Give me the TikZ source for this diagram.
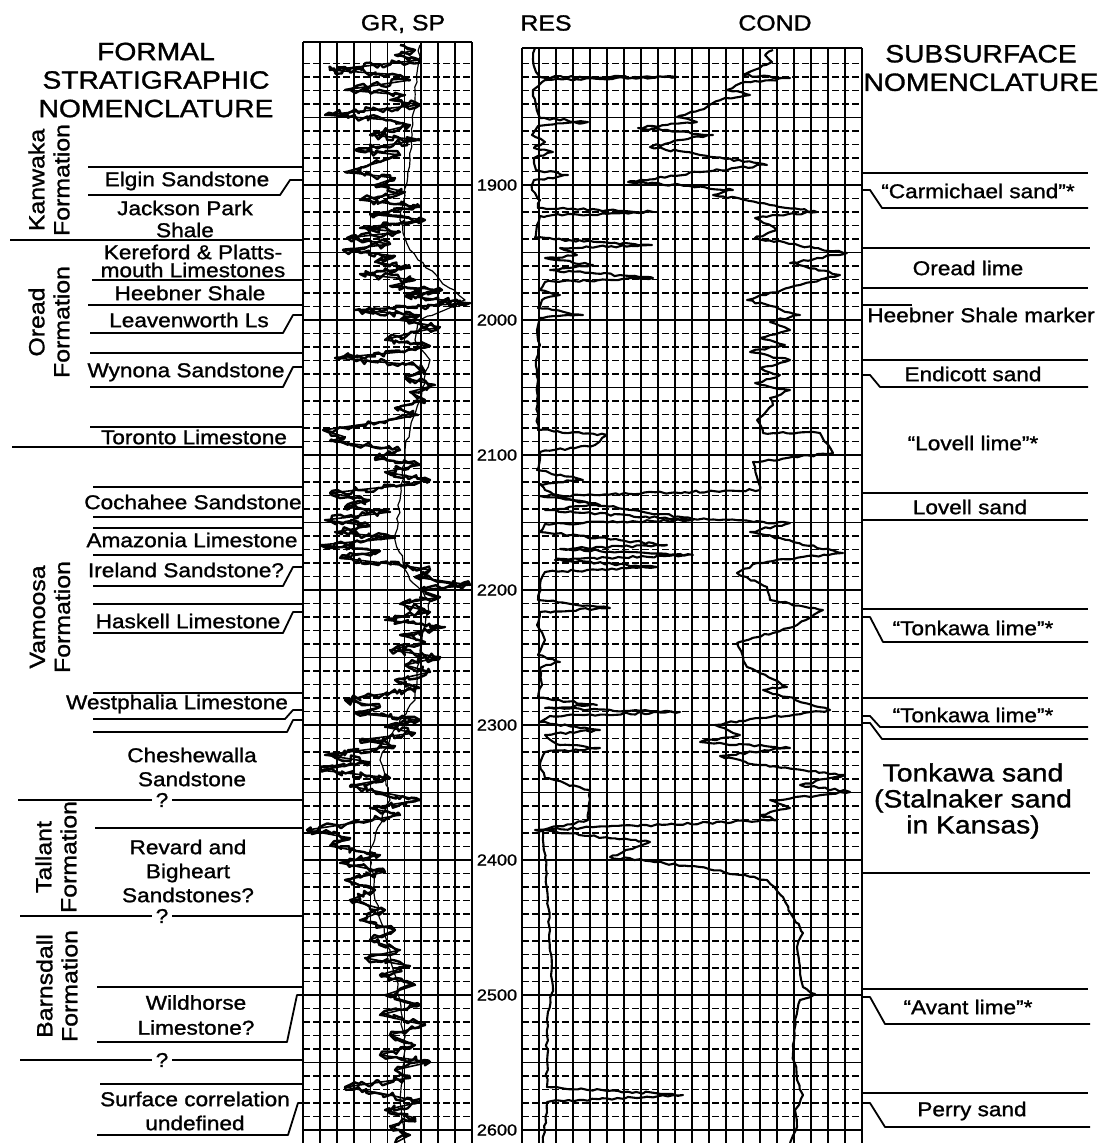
\documentclass[tikz,border=0pt]{standalone}
\usepackage{fontspec}
\setmainfont{Liberation Sans}[FakeStretch=1.13, FakeBold=1.2]
\usetikzlibrary{decorations.pathmorphing}
\begin{document}
\pgfmathsetseed{7}
\begin{tikzpicture}[x=1pt,y=-1pt,
  strat/.style={line width=1.8pt, line join=round},
  gmaj/.style={line width=1.8pt},
  gmin/.style={line width=1.4pt, dash pattern=on 7pt off 3pt},
  gvert/.style={line width=1.7pt},
  logc/.style={line width=2.1pt, line join=round},
  grc/.style={line width=2.4pt, line join=round, decorate, decoration={random steps, segment length=4pt, amplitude=3.5pt}},
  rc/.style={line width=2.1pt, line join=round, decorate, decoration={random steps, segment length=5pt, amplitude=1.2pt}},
  spc/.style={line width=1.2pt, line join=round, decorate, decoration={random steps, segment length=6pt, amplitude=1.5pt}},
  lbl/.style={font=\fontsize{20}{22}\selectfont, align=center, inner sep=0pt},
  hdr/.style={font=\fontsize{25}{28.5}\selectfont, align=center, inner sep=0pt},
  colh/.style={font=\fontsize{22}{24}\selectfont, inner sep=0pt},
  fm/.style={font=\fontsize{22}{25}\selectfont, align=center, inner sep=0pt, rotate=90},
  dep/.style={font=\fontsize{16}{18}\selectfont, inner sep=1pt, fill=white},
  grpts/.style={}
]
\useasboundingbox (0,0) rectangle (1102,1143);
\fill[white] (0,0) rectangle (1102,1143);

% ---------- grids ----------
\foreach \i in {0,...,10}{
  \draw[gvert] ({303+\i*16.9},42) -- ({303+\i*16.9},1143);
}
\foreach \i in {0,...,20}{
  \draw[gvert] ({522+\i*17},48) -- ({522+\i*17},1143);
}
\draw[gmaj] (303,42) -- (472,42);
\draw[gmaj] (522,48) -- (862,48);
\foreach \d in {1810,1820,...,2610}{
  \pgfmathsetmacro{\yy}{185+(\d-1900)*1.35}
  \pgfmathtruncatemacro{\mm}{mod(\d,50)}
  \ifnum\mm=0
    \draw[gmaj] (303,\yy) -- (472,\yy) (522,\yy) -- (862,\yy);
  \else
    \draw[gmin] (303,\yy) -- (472,\yy) (522,\yy) -- (862,\yy);
  \fi
}

% ---------- GR curve ----------
\def\grpath{(400,45) (415,50) (395,55) (420,60) (330,70) (400,75) (410,80) (345,90) (405,95) (390,100) (420,105) (325,115) (390,120) (410,125) (370,135) (420,140) (355,150) (400,155) (380,162) (345,172) (395,178) (375,185) (405,192) (360,200) (420,207) (370,214) (425,220) (360,228) (400,232) (347,238) (390,244) (343,250) (395,256) (375,262) (410,268) (360,274) (415,280) (390,286) (442,290) (405,296) (470,303) (355,310) (420,315) (400,320) (440,327) (410,333) (385,340) (430,346) (400,352) (335,358) (415,365) (425,372) (405,378) (435,385) (410,392) (425,400) (395,408) (418,415) (380,422) (323,430) (345,437) (330,441) (400,450) (375,458) (420,465) (385,472) (430,480) (395,486) (330,493) (370,500) (345,507) (390,512) (325,520) (370,526) (335,532) (395,538) (320,545) (380,551) (340,558) (400,565) (430,570) (415,577) (470,585) (420,590) (440,597) (400,604) (430,612) (385,620) (445,627) (400,635) (425,642) (390,650) (440,657) (405,665) (430,672) (395,680) (420,688) (345,700) (380,707) (355,713) (420,720) (385,727) (415,733) (360,740) (395,746) (325,755) (370,762) (320,770) (390,778) (350,786) (420,800) (370,808) (400,815) (360,822) (307,830) (350,838) (330,846) (380,855) (340,863) (385,872) (345,880) (375,890) (350,900) (385,910) (360,920) (395,930) (370,940) (400,950) (365,958) (410,966) (380,975) (415,985) (385,995) (420,1005) (380,1015) (425,1025) (390,1035) (415,1045) (380,1055) (430,1062) (395,1070) (410,1078) (345,1087) (390,1095) (420,1102) (385,1110) (415,1118) (390,1126) (410,1135) (395,1143)}
\draw[logc, line width=1.6pt] plot coordinates {\grpath};
\draw[grc] plot coordinates {\grpath};
% SP curve
\draw[spc] plot coordinates {(420,45) (415,100) (410,160) (400,220) (410,250) (440,280) (465,300) (455,305) (420,320) (415,340) (430,360) (420,400) (410,430) (405,450) (400,500) (395,540) (410,580) (430,600) (420,650) (415,700) (400,720) (380,760) (390,800) (370,850) (375,900) (390,950) (400,1000) (405,1050) (400,1100) (405,1143)};

% ---------- RES curve ----------
\draw[rc] plot coordinates {(535,48) (533,60) (536,72) (540,77) (677,77) (545,80) (533,90) (536,105) (540,118) (588,122) (538,126) (532,135) (545,142) (534,148) (553,152) (534,158) (536,170) (568,175) (534,180) (532,190) (540,200) (538,208) (653,212) (540,216) (537,225) (535,238) (652,245) (560,248) (577,255) (545,258) (593,265) (550,270) (653,278) (545,282) (540,290) (560,295) (542,300) (538,308) (583,315) (540,318) (537,330) (540,345) (536,360) (538,380) (537,400) (538,430) (607,435) (595,445) (540,452) (537,470) (583,480) (540,484) (545,490) (560,498) (600,505) (545,510) (693,520) (545,524) (540,532) (667,545) (560,549) (693,555) (555,560) (657,567) (545,572) (540,585) (538,600) (610,608) (540,612) (537,625) (545,640) (538,655) (560,662) (540,668) (542,685) (538,698) (597,705) (545,708) (680,712) (550,716) (540,722) (600,730) (545,735) (560,745) (600,748) (545,752) (540,765) (545,778) (590,790) (588,820) (543,830) (545,858) (550,930) (552,993) (547,1020) (547,1087) (683,1095) (547,1102) (543,1143)};

% ---------- COND curve ----------
\draw[rc] plot coordinates {(773,50) (765,55) (772,62) (760,68) (743,75) (790,78) (745,82) (727,90) (750,95) (725,98) (713,103) (700,110) (677,117) (697,122) (638,128) (713,135) (680,140) (650,147) (700,155) (767,165) (700,172) (628,182) (690,186) (733,190) (713,195) (745,200) (770,205) (817,212) (755,218) (777,230) (755,238) (847,253) (790,263) (840,275) (800,285) (747,300) (800,315) (770,322) (790,330) (760,338) (785,345) (750,352) (790,360) (760,368) (780,375) (755,383) (790,390) (770,398) (773,405) (757,420) (763,433) (820,433) (833,453) (753,462) (757,477) (760,490) (540,496) (693,519) (790,523) (750,532) (843,553) (757,563) (737,573) (767,587) (770,600) (823,610) (793,627) (737,643) (747,667) (787,687) (763,690) (830,710) (760,718) (715,725) (740,735) (700,742) (790,748) (720,756) (760,765) (845,775) (800,785) (850,792) (770,800) (790,808) (760,815) (777,820) (535,830) (590,836) (650,842) (610,857) (700,867) (767,880) (783,897) (793,917) (803,933) (797,947) (800,970) (803,987) (815,994) (800,1000) (795,1020) (793,1053) (797,1080) (803,1095) (795,1110) (797,1127) (790,1143)};

% ---------- headers ----------
\node[hdr] (hformal) at (156,80) {FORMAL\\STRATIGRAPHIC\\NOMENCLATURE};
\node[hdr] (hsub) at (981,68) {SUBSURFACE\\NOMENCLATURE};
\node[colh] (hgr) at (403,24) {GR, SP};
\node[colh] (hres) at (546,23) {RES};
\node[colh] (hcond) at (775,23) {COND};

% ---------- depth labels ----------
\foreach \d in {1900,2000,...,2600}{
  \node[dep] (d\d) at (497,{185+(\d-1900)*1.35}) {\d};
}

% ---------- formation labels ----------
\node[fm] (fkan) at (49,180) {Kanwaka\\Formation};
\node[fm] (fore) at (49,322) {Oread\\Formation};
\node[fm] (fvam) at (50,617) {Vamoosa\\Formation};
\node[fm] (ftal) at (56,857) {Tallant\\Formation};
\node[fm] (fbar) at (57,986) {Barnsdall\\Formation};

% ---------- left strat lines ----------
\draw[strat] (88,167) -- (303,167);
\draw[strat] (88,195) -- (280,195) -- (290,180) -- (303,180);
\draw[strat] (10,240) -- (303,240);
\draw[strat] (92,280) -- (303,280);
\draw[strat] (88,305) -- (303,305);
\draw[strat] (90,333) -- (283,333) -- (293,315) -- (303,315);
\draw[strat] (90,353) -- (303,353);
\draw[strat] (90,387) -- (283,387) -- (293,367) -- (303,367);
\draw[strat] (90,427) -- (303,427);
\draw[strat] (12,447) -- (303,447);
\draw[strat] (93,487) -- (303,487);
\draw[strat] (93,517) -- (303,517);
\draw[strat] (93,528) -- (303,528);
\draw[strat] (93,555) -- (303,555);
\draw[strat] (93,586) -- (283,586) -- (293,567) -- (303,567);
\draw[strat] (93,604) -- (303,604);
\draw[strat] (93,633) -- (283,633) -- (293,612) -- (303,612);
\draw[strat] (93,693) -- (303,693);
\draw[strat] (93,719) -- (285,719) -- (293,710) -- (303,710);
\draw[strat] (93,732) -- (287,732) -- (293,720) -- (303,720);
\draw[strat] (18,800) -- (152,800) (172,800) -- (303,800);
\draw[strat] (95,828) -- (303,828);
\draw[strat] (20,916) -- (152,916) (172,916) -- (303,916);
\draw[strat] (97,987) -- (303,987);
\draw[strat] (97,1042) -- (287,1042) -- (297,995) -- (303,995);
\draw[strat] (20,1060) -- (152,1060) (172,1060) -- (303,1060);
\draw[strat] (100,1084) -- (303,1084);
\draw[strat] (97,1135) -- (288,1135) -- (298,1103) -- (303,1103);

% ---------- left labels ----------
\node[lbl] (elgin) at (187,181) {Elgin Sandstone};
\node[lbl] (jack) at (185,219) {Jackson Park\\Shale};
\node[lbl, font=\fontsize{20}{18}\selectfont] (kere) at (193,261) {Kereford \& Platts-\\mouth Limestones};
\node[lbl] (heeb) at (190,293) {Heebner Shale};
\node[lbl] (leav) at (189,320) {Leavenworth Ls};
\node[lbl] (wyn) at (186,372) {Wynona Sandstone};
\node[lbl] (tor) at (194,437) {Toronto Limestone};
\node[lbl] (coch) at (193,502) {Cochahee Sandstone};
\node[lbl] (amaz) at (192,540) {Amazonia Limestone};
\node[lbl] (irel) at (186,570) {Ireland Sandstone?};
\node[lbl] (hask) at (188,621) {Haskell Limestone};
\node[lbl] (west) at (177,704) {Westphalia Limestone};
\node[lbl, font=\fontsize{20}{24}\selectfont] (chesh) at (192,767) {Cheshewalla\\Sandstone};
\node[lbl] (q1) at (162,800) {?};
\node[lbl, font=\fontsize{20}{24}\selectfont] (rev) at (188,871) {Revard and\\Bigheart\\Sandstones?};
\node[lbl] (q2) at (162,916) {?};
\node[lbl, font=\fontsize{20}{25}\selectfont] (wild) at (196,1015) {Wildhorse\\Limestone?};
\node[lbl] (q3) at (162,1060) {?};
\node[lbl, font=\fontsize{20}{24}\selectfont] (surf) at (195,1111) {Surface correlation\\undefined};

% ---------- right strat lines ----------
\draw[strat] (862,173) -- (1088,173);
\draw[strat] (862,190) -- (870,190) -- (882,208) -- (1088,208);
\draw[strat] (862,248) -- (1090,248);
\draw[strat] (862,288) -- (1088,288);
\draw[strat] (862,305) -- (912,305);
\draw[strat] (862,360) -- (1088,360);
\draw[strat] (862,375) -- (870,375) -- (880,387) -- (1088,387);
\draw[strat] (862,493) -- (1088,493);
\draw[strat] (862,520) -- (1088,520);
\draw[strat] (862,609) -- (1088,609);
\draw[strat] (862,617) -- (870,617) -- (883,642) -- (1088,642);
\draw[strat] (862,698) -- (1088,698);
\draw[strat] (862,716) -- (870,716) -- (880,727) -- (1088,727);
\draw[strat] (862,723) -- (870,723) -- (882,739) -- (1088,739);
\draw[strat] (862,873) -- (1090,873);
\draw[strat] (862,989) -- (1088,989);
\draw[strat] (862,997) -- (870,997) -- (885,1024) -- (1090,1024);
\draw[strat] (862,1093) -- (1088,1093);
\draw[strat] (862,1103) -- (870,1103) -- (885,1127) -- (1090,1127);

% ---------- right labels ----------
\node[lbl] (carm) at (978,191) {“Carmichael sand”*};
\node[lbl] (oread) at (968,268) {Oread lime};
\node[lbl] (hsm) at (981,315) {Heebner Shale marker};
\node[lbl] (endi) at (973,374) {Endicott sand};
\node[lbl] (lovl) at (973,443) {“Lovell lime”*};
\node[lbl] (lovs) at (970,507) {Lovell sand};
\node[lbl] (tonk1) at (973,628) {“Tonkawa lime”*};
\node[lbl] (tonk2) at (973,715) {“Tonkawa lime”*};
\node[lbl, font=\fontsize{25}{26}\selectfont] (tonks) at (973,801) {Tonkawa sand\\(Stalnaker sand\\in Kansas)};
\node[lbl] (avant) at (968,1007) {“Avant lime”*};
\node[lbl] (perry) at (972,1111) {Perry sand};
\end{tikzpicture}
\end{document}
